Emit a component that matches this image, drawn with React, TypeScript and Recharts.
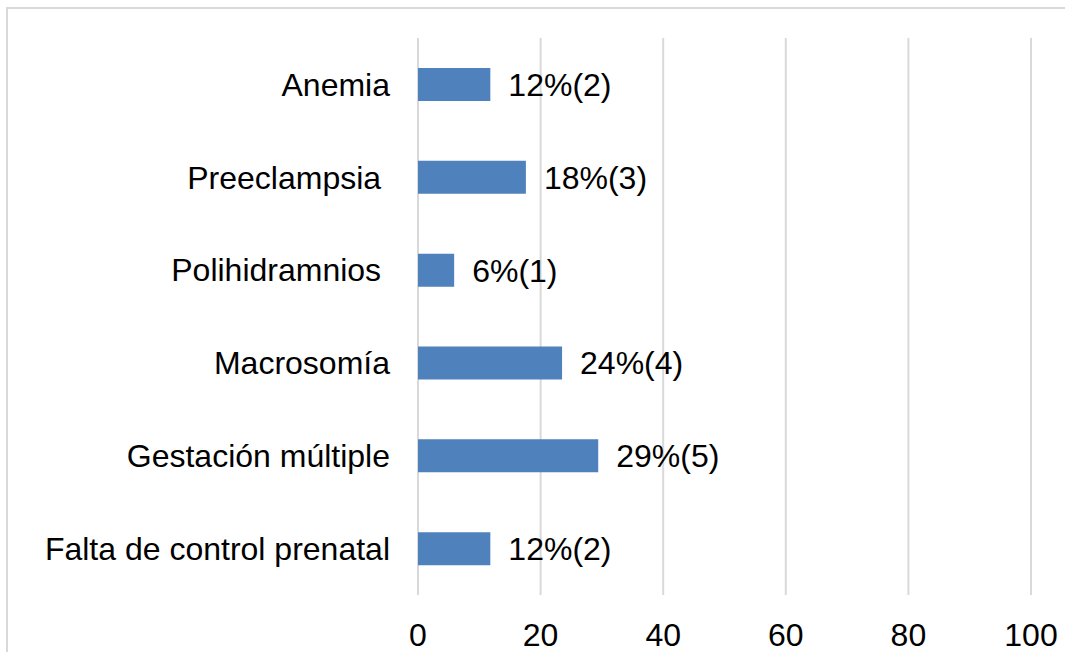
import React from 'react';
import { BarChart, Bar, XAxis, YAxis, CartesianGrid, LabelList } from 'recharts';

// categorías de arriba hacia abajo
const categories = [
  'Anemia',
  'Preeclampsia\u00A0',
  'Polihidramnios\u00A0',
  'Macrosomía',
  'Gestación múltiple',
  'Falta de control prenatal',
];
const percents = [11.8, 17.6, 5.9, 23.5, 29.4, 11.8];
const labels = ['12%(2)', '18%(3)', '6%(1)', '24%(4)', '29%(5)', '12%(2)'];
const xTicks = [0, 20, 40, 60, 80, 100];

const data = categories.map((name, i) => ({ name, value: percents[i], label: labels[i] }));

const FONT = 'Liberation Sans, Arial, sans-serif';
const GRID = '#d9d9d9';
const BAR = '#4f81bd';

const App: React.FC = () => {
  return (
    <div style={{ position: 'absolute', left: 0, top: 0, width: 1065, height: 652, background: '#fff', overflow: 'hidden', fontFamily: FONT }}>
      <div
        style={{
          position: 'absolute',
          left: 6,
          top: 7,
          width: 1100,
          height: 700,
          borderTop: `2px solid ${GRID}`,
          borderLeft: `2px solid ${GRID}`,
        }}
      />
      <BarChart
        width={1065}
        height={652}
        data={data}
        layout="vertical"
        margin={{ top: 38, right: 34, bottom: 0, left: 0 }}
        barSize={33}
        style={{ position: 'absolute', left: 0, top: 0 }}
      >
        <CartesianGrid horizontal={false} stroke={GRID} strokeWidth={2} />
        <XAxis
          type="number"
          domain={[0, 100]}
          ticks={xTicks}
          axisLine={false}
          tickLine={false}
          tickMargin={22}
          height={57}
          tick={{ fill: '#000', fontSize: 32, fontFamily: FONT }}
        />
        <YAxis
          type="category"
          dataKey="name"
          width={418}
          axisLine={false}
          tickLine={false}
          tickMargin={22}
          interval={0}
          tick={{ fill: '#000', fontSize: 32, fontFamily: FONT }}
        />
        <Bar dataKey="value" fill={BAR} isAnimationActive={false}>
          <LabelList
            dataKey="label"
            position="right"
            offset={18}
            style={{ fill: '#000', fontSize: 32, fontFamily: FONT }}
          />
        </Bar>
      </BarChart>
    </div>
  );
};

export default App;
